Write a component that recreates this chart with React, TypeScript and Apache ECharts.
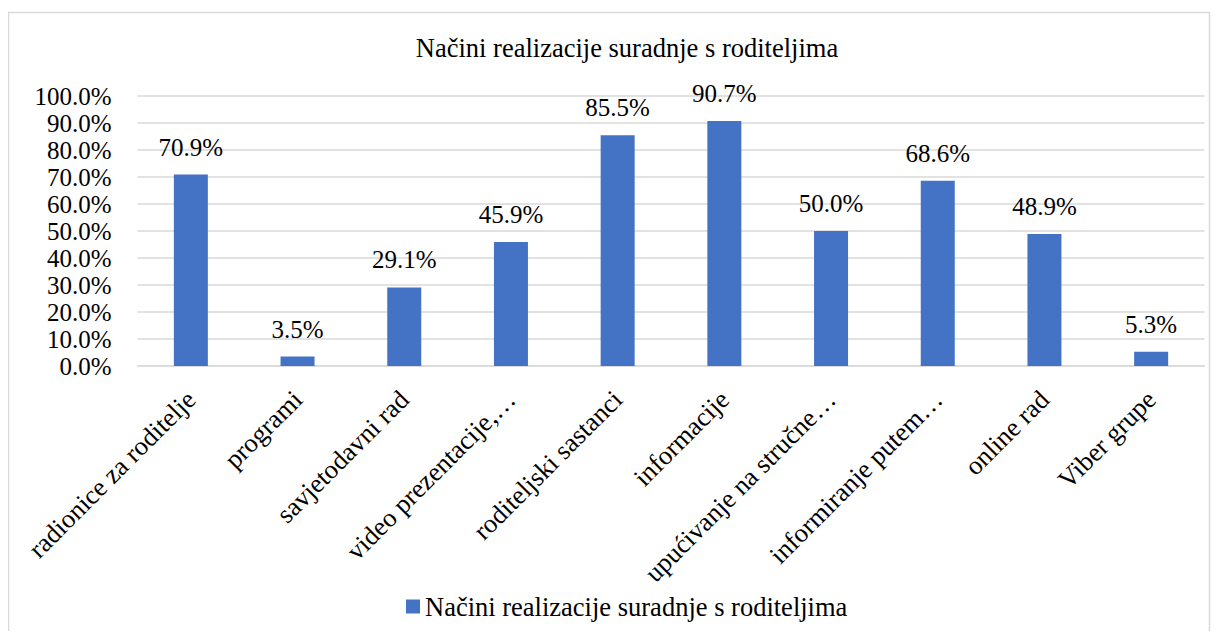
import React, { useEffect, useRef } from "react";
import * as echarts from "echarts";

const titleText = "Načini realizacije suradnje s roditeljima";
const seriesName = "Načini realizacije suradnje s roditeljima";
const categories = [
  "radionice za roditelje",
  "programi",
  "savjetodavni rad",
  "video prezentacije,…",
  "roditeljski sastanci",
  "informacije",
  "upućivanje na stručne…",
  "informiranje putem…",
  "online rad",
  "Viber grupe",
];
const values = [70.9, 3.5, 29.1, 45.9, 85.5, 90.7, 50.0, 68.6, 48.9, 5.3];
const yMin = 0;
const yMax = 100;
const yInterval = 10;

const FONT = "'Liberation Serif', 'Times New Roman', serif";

export default function App() {
  const ref = useRef<HTMLDivElement>(null);
  useEffect(() => {
    if (!ref.current) return;
    const chart = echarts.init(ref.current, undefined, { renderer: "svg" });
    chart.setOption({
      animation: false,
      backgroundColor: "#ffffff",
      textStyle: { fontFamily: FONT, color: "#000" },
      graphic: [
        {
          type: "rect",
          shape: { x: 8.5, y: 12.5, width: 1201, height: 640 },
          style: { fill: "none", stroke: "#d9d9d9", lineWidth: 1.5 },
          silent: true,
        },
      ],
      title: {
        text: titleText,
        left: 622,
        textAlign: "center",
        top: 29,
        textStyle: { fontFamily: FONT, fontSize: 26.5, fontWeight: "normal", color: "#000" },
      },
      legend: {
        data: [seriesName],
        bottom: 14,
        left: 401,
        itemWidth: 14,
        itemHeight: 14,
        itemGap: 6,
        icon: "rect",
        textStyle: { fontFamily: FONT, fontSize: 26.5, color: "#000" },
      },
      grid: { left: 137.5, right: 15.5, top: 96, bottom: 273, containLabel: false },
      xAxis: {
        type: "category",
        data: categories,
        axisLine: { show: true, lineStyle: { color: "#d9d9d9", width: 1.5 } },
        axisTick: { show: false },
        axisLabel: {
          rotate: 45,
          interval: 0,
          margin: 29,
          fontFamily: FONT,
          fontSize: 26.5,
          color: "#000",
        },
      },
      yAxis: {
        type: "value",
        min: yMin,
        max: yMax,
        interval: yInterval,
        axisLine: { show: false },
        axisTick: { show: false },
        splitLine: { lineStyle: { color: "#d9d9d9", width: 1.5 } },
        axisLabel: {
          margin: 26,
          fontFamily: FONT,
          fontSize: 25,
          color: "#000",
          formatter: (v: number) => v.toFixed(1) + "%",
        },
      },
      series: [
        {
          name: seriesName,
          type: "bar",
          data: values,
          barWidth: 34,
          itemStyle: { color: "#4472C4" },
          label: {
            show: true,
            position: "top",
            distance: 15,
            fontFamily: FONT,
            fontSize: 25,
            color: "#000",
            formatter: (p: any) => Number(p.value).toFixed(1) + "%",
          },
        },
      ],
    });
    return () => chart.dispose();
  }, []);
  return <div ref={ref} style={{ width: 1220, height: 639, margin: -8 }} />;
}
